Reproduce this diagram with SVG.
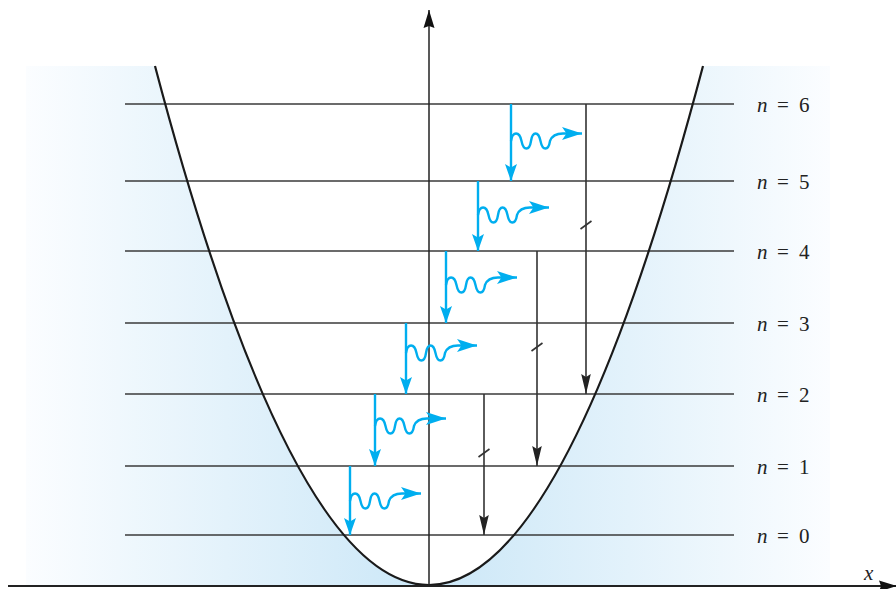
<svg xmlns="http://www.w3.org/2000/svg" width="896" height="589" viewBox="0 0 896 589">
<style>
.lvl{stroke:#3a3a3a;stroke-width:1.6;fill:none}
.blue{stroke:#00aeef;stroke-width:2.4;fill:none}
.blk{stroke:#333;stroke-width:1.6;fill:none}
text{font-family:"Liberation Serif","Times New Roman",serif;font-size:21px;fill:#222}
.it{font-style:italic}
</style>
<defs>
<linearGradient id="bg" x1="26" y1="0" x2="830" y2="0" gradientUnits="userSpaceOnUse">
<stop offset="0" stop-color="#fbfdff"/>
<stop offset="0.5" stop-color="#cbe7f7"/>
<stop offset="1" stop-color="#fbfdff"/>
</linearGradient>
<marker id="ab" markerWidth="22" markerHeight="16" refX="20" refY="8" orient="auto" markerUnits="userSpaceOnUse">
<path d="M0,1.5 L20,8 L0,14.5 L4.5,8 Z" fill="#00aeef"/>
</marker>
<marker id="av" markerWidth="20" markerHeight="14" refX="17" refY="7" orient="auto" markerUnits="userSpaceOnUse">
<path d="M0,1 L17,7 L0,13 L3.5,7 Z" fill="#00aeef"/>
</marker>
<marker id="ak" markerWidth="22" markerHeight="12" refX="20" refY="6" orient="auto" markerUnits="userSpaceOnUse">
<path d="M0,1.2 L20,6 L0,10.8 L3,6 Z" fill="#222"/>
</marker>
<marker id="ax" markerWidth="20" markerHeight="12" refX="18" refY="6" orient="auto" markerUnits="userSpaceOnUse">
<path d="M0,0.5 L18,6 L0,11.5 L2,6 Z" fill="#111"/>
</marker>
<g id="wave">
<path d="M0,0 C1.5,-10 8.5,-10 10.5,0 C12.5,10 18.5,10 20,0 C21.5,-10 27.5,-10 29.5,0 C31.5,10 37.5,10 39,0 C41,-5.5 45,-7.5 52,-7.5 L71,-7.5" fill="none" stroke="#00aeef" stroke-width="2.4" marker-end="url(#ab)"/>
</g>
</defs>
<g id="background">
<rect x="26" y="66" width="804" height="520" fill="url(#bg)"/>
<path d="M155,66 Q429,1104 703,66 Z" fill="#ffffff"/>
</g>
<g id="levels">
<line class="lvl" x1="125" y1="104" x2="734" y2="104"/>
<line class="lvl" x1="125" y1="181" x2="734" y2="181"/>
<line class="lvl" x1="125" y1="251" x2="734" y2="251"/>
<line class="lvl" x1="125" y1="323" x2="734" y2="323"/>
<line class="lvl" x1="125" y1="394" x2="734" y2="394"/>
<line class="lvl" x1="125" y1="466" x2="734" y2="466"/>
<line class="lvl" x1="125" y1="535" x2="734" y2="535"/>
</g>
<g id="labels">
<text y="112" font-family="Liberation Serif, serif"><tspan x="757" class="it">n</tspan><tspan x="777">=</tspan><tspan x="799">6</tspan></text>
<text y="189" font-family="Liberation Serif, serif"><tspan x="757" class="it">n</tspan><tspan x="777">=</tspan><tspan x="799">5</tspan></text>
<text y="259" font-family="Liberation Serif, serif"><tspan x="757" class="it">n</tspan><tspan x="777">=</tspan><tspan x="799">4</tspan></text>
<text y="331" font-family="Liberation Serif, serif"><tspan x="757" class="it">n</tspan><tspan x="777">=</tspan><tspan x="799">3</tspan></text>
<text y="402" font-family="Liberation Serif, serif"><tspan x="757" class="it">n</tspan><tspan x="777">=</tspan><tspan x="799">2</tspan></text>
<text y="474" font-family="Liberation Serif, serif"><tspan x="757" class="it">n</tspan><tspan x="777">=</tspan><tspan x="799">1</tspan></text>
<text y="543" font-family="Liberation Serif, serif"><tspan x="757" class="it">n</tspan><tspan x="777">=</tspan><tspan x="799">0</tspan></text>
<text x="864" y="580" class="it" font-family="Liberation Serif, serif">x</text>
</g>
<g id="potential">
<path d="M155,66 Q429,1104 703,66" fill="none" stroke="#1a1a1a" stroke-width="2.2"/>
</g>
<g id="axes">
<line x1="429" y1="586" x2="429" y2="10" stroke="#222" stroke-width="1.5" marker-end="url(#ax)"/>
<line x1="8" y1="586" x2="897" y2="586" stroke="#222" stroke-width="2" marker-end="url(#ax)"/>
</g>
<g id="connectors">
<line class="blue" x1="511" y1="104" x2="511" y2="181" marker-end="url(#av)"/>
<use href="#wave" x="511" y="141"/>
<line class="blue" x1="478" y1="181" x2="478" y2="251" marker-end="url(#av)"/>
<use href="#wave" x="478" y="215"/>
<line class="blue" x1="446" y1="251" x2="446" y2="323" marker-end="url(#av)"/>
<use href="#wave" x="446" y="285"/>
<line class="blue" x1="406" y1="323" x2="406" y2="394" marker-end="url(#av)"/>
<use href="#wave" x="406" y="353"/>
<line class="blue" x1="375" y1="394" x2="375" y2="466" marker-end="url(#av)"/>
<use href="#wave" x="375" y="426"/>
<line class="blue" x1="350" y1="466" x2="350" y2="535" marker-end="url(#av)"/>
<use href="#wave" x="350" y="501"/>
<line class="blk" x1="586" y1="104" x2="586" y2="394" marker-end="url(#ak)"/>
<line class="blk" x1="580.5" y1="229" x2="591.5" y2="221"/>
<line class="blk" x1="537" y1="251" x2="537" y2="466" marker-end="url(#ak)"/>
<line class="blk" x1="531.5" y1="351" x2="542.5" y2="343"/>
<line class="blk" x1="484" y1="394" x2="484" y2="535" marker-end="url(#ak)"/>
<line class="blk" x1="478.5" y1="457" x2="489.5" y2="449"/>
</g>
</svg>
